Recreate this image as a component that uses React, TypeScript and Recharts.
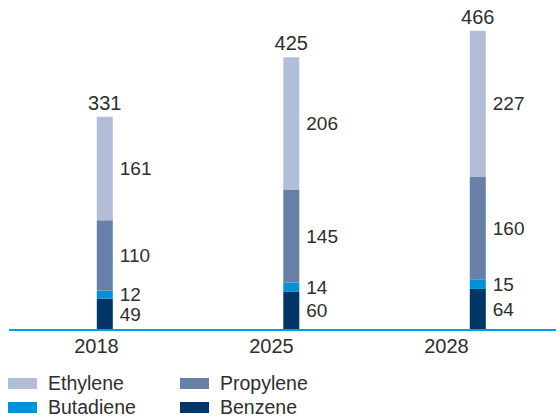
import React from 'react';
import { BarChart, Bar, XAxis, YAxis, LabelList, Legend } from 'recharts';

const years = ['2018', '2025', '2028'];
const benzene = [49, 60, 64];
const butadiene = [12, 14, 15];
const propylene = [110, 145, 160];
const ethylene = [161, 206, 227];
const totals = [331, 425, 466];

const seriesNames = ['Ethylene', 'Propylene', 'Butadiene', 'Benzene'];
const seriesColors: Record<string, string> = {
  Ethylene: '#b2bed8',
  Propylene: '#6880a8',
  Butadiene: '#0092d6',
  Benzene: '#003566',
};

const data = years.map((year, i) => ({
  year,
  idx: i,
  Benzene: benzene[i],
  Butadiene: butadiene[i],
  Propylene: propylene[i],
  Ethylene: ethylene[i],
  total: totals[i],
}));

const FONT = '"Liberation Sans", Arial, sans-serif';
const TEXT = '#2e2e2e';

const labelStyle = { fill: TEXT, fontSize: 19, fontFamily: FONT };
const totalStyle = { fill: TEXT, fontSize: 20, fontFamily: FONT };

const renderLegend = () => (
  <div
    style={{
      display: 'grid',
      gridTemplateColumns: '172px 172px',
      gridTemplateRows: '24px 21px',
      height: 45,
      fontFamily: FONT,
      fontSize: 19.5,
      color: TEXT,
    }}
  >
    {seriesNames.map((name, i) => (
      <div
        key={name}
        style={{ display: 'flex', alignItems: i < 2 ? 'center' : 'flex-start', height: i < 2 ? 24 : 21 }}
      >
        <span
          style={{
            display: 'inline-block',
            width: 29,
            height: 11,
            background: seriesColors[name],
            marginRight: 11,
            marginTop: i < 2 ? 0 : 7,
          }}
        />
        <span style={{ lineHeight: '19px', marginTop: i < 2 ? 0 : 3 }}>{name}</span>
      </div>
    ))}
  </div>
);

export default function App() {
  return (
    <div style={{ position: 'absolute', left: 0, top: 0, width: 556, height: 416, background: '#fff' }}>
      <BarChart
        width={556}
        height={416}
        data={data}
        margin={{ top: 9, right: 0, left: 9, bottom: 0 }}
      >
        <XAxis
          xAxisId="labels"
          type="category"
          dataKey="year"
          height={41}
          padding={{ left: 0, right: 22 }}
          axisLine={{ stroke: '#009fe3', strokeWidth: 2 }}
          tickLine={false}
          tickSize={0}
          tickMargin={9}
          tick={{ fill: TEXT, fontSize: 20, fontFamily: FONT }}
        />
        <XAxis
          xAxisId="bars"
          type="number"
          dataKey="idx"
          domain={[-0.515, 2.418]}
          allowDataOverflow
          height={0}
          hide
        />
        <YAxis hide domain={[0, 500]} />
        <Legend
          verticalAlign="bottom"
          content={renderLegend}
          wrapperStyle={{ left: 8, bottom: 0, width: 548 }}
        />
        <Bar xAxisId="bars" dataKey="Benzene" stackId="a" fill={seriesColors.Benzene} barSize={16} isAnimationActive={false}>
          <LabelList dataKey="Benzene" position="right" offset={7} style={labelStyle} />
        </Bar>
        <Bar xAxisId="bars" dataKey="Butadiene" stackId="a" fill={seriesColors.Butadiene} barSize={16} isAnimationActive={false}>
          <LabelList dataKey="Butadiene" position="right" offset={7} style={labelStyle} />
        </Bar>
        <Bar xAxisId="bars" dataKey="Propylene" stackId="a" fill={seriesColors.Propylene} barSize={16} isAnimationActive={false}>
          <LabelList dataKey="Propylene" position="right" offset={7} style={labelStyle} />
        </Bar>
        <Bar xAxisId="bars" dataKey="Ethylene" stackId="a" fill={seriesColors.Ethylene} barSize={16} isAnimationActive={false}>
          <LabelList dataKey="Ethylene" position="right" offset={7} style={labelStyle} />
          <LabelList dataKey="total" position="top" offset={7} style={totalStyle} />
        </Bar>
      </BarChart>
    </div>
  );
}
